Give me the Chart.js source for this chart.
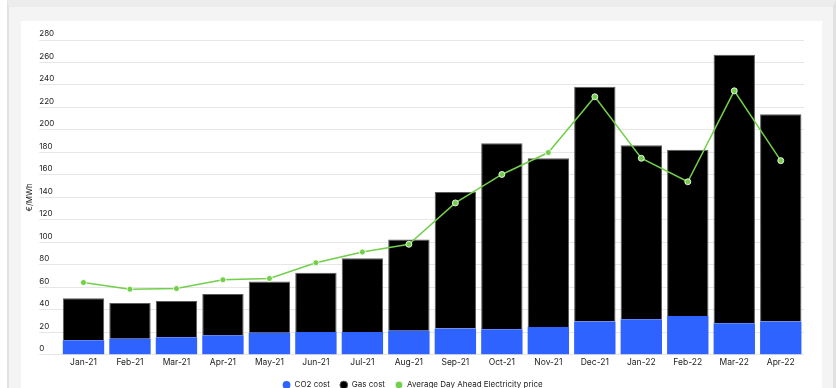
<!DOCTYPE html>
<html>
<head>
<meta charset="utf-8">
<script src="https://cdn.jsdelivr.net/npm/chart.js@4.4.1/dist/chart.umd.min.js"></script>
<style>
	html, body { margin: 0; padding: 0; background: #ffffff; overflow: hidden; width: 836px; height: 388px; }
	#frame { position: absolute; left: 7px; top: 0px; width: 824px; height: 400px; background: #f4f4f4;
		border-left: 2px solid #e2e2e2; border-top: 7px solid #ececec; border-right: 3px solid #e0e0e0; }
	#card { position: absolute; left: 21px; top: 21px; width: 801px; height: 380px; background: #ffffff; }
	#chart-canvas { position: absolute; left: 0px; top: 0px; }
</style>
</head>
<body>
<div id="frame"></div>
<div id="card">
	<canvas id="chart-canvas" width="788" height="378"></canvas>
</div>
<script>
const monthLabels = ["Jan-21", "Feb-21", "Mar-21", "Apr-21", "May-21", "Jun-21", "Jul-21", "Aug-21",
	"Sep-21", "Oct-21", "Nov-21", "Dec-21", "Jan-22", "Feb-22", "Mar-22", "Apr-22"];
const co2Cost = [12.9, 14.3, 15.6, 17.4, 19.7, 20.3, 20.3, 21.5, 23.3, 22.8, 24.8, 29.6, 31.7, 34.4, 28.1, 29.6];
const gasCost = [37.3, 31.7, 32.2, 36.7, 45.5, 52.7, 65.5, 81.0, 121.4, 165.4, 150.0, 208.8, 154.7, 147.9, 238.7, 184.3];
const dayAheadPrice = [64.3, 58.3, 58.9, 66.7, 67.9, 81.9, 91.4, 98.3, 135.1, 160.4, 179.9, 229.5, 174.8, 153.9, 234.8, 172.7];
const yMin = 0;
const yMax = 280;
const yStep = 20;

const fontFamily = "Inter, 'Noto Sans', sans-serif";
const textColor = "#222222";

Chart.defaults.font.family = fontFamily;
Chart.defaults.color = textColor;

let chartCanvas = document.getElementById("chart-canvas");
let chart = new Chart(chartCanvas.getContext("2d"),
{
	type: 'bar',
	data:
	{
		labels: monthLabels,
		datasets:
		[{
			label: "CO2 cost",
			data: co2Cost,
			backgroundColor: '#2e63ff',
			borderWidth: 0,
			order: 1,
			stack: "cost"
		},
		{
			label: "Gas cost",
			data: gasCost,
			backgroundColor: '#000000',
			borderColor: '#5c5c5c',
			borderWidth: 1,
			order: 1,
			stack: "cost"
		},
		{
			type: 'line',
			label: "Average Day Ahead Electricity price",
			data: dayAheadPrice,
			borderColor: '#72cf4a',
			backgroundColor: '#72cf4a',
			borderWidth: 1.5,
			pointRadius: 3,
			pointBorderWidth: 1,
			pointBorderColor: 'rgba(255, 255, 255, 0.85)',
			pointBackgroundColor: '#72cf4a',
			tension: 0,
			order: 0
		}]
	},
	options:
	{
		responsive: false,
		animation: false,
		devicePixelRatio: 1,
		layout:
		{
			padding: { top: 19, right: 4.75, left: 0, bottom: 0 }
		},
		datasets:
		{
			bar: { categoryPercentage: 0.89, barPercentage: 1 }
		},
		plugins:
		{
			tooltip: { enabled: false },
			legend:
			{
				position: 'bottom',
				labels:
				{
					usePointStyle: true,
					pointStyle: 'circle',
					boxWidth: 8,
					boxHeight: 5.5,
					padding: 10,
					color: textColor,
					font: { size: 8, family: fontFamily },
					sort: (a, b) => a.datasetIndex - b.datasetIndex
				}
			}
		},
		scales:
		{
			x:
			{
				stacked: true,
				grid: { display: false, drawTicks: false },
				border: { display: false },
				ticks:
				{
					padding: 3,
					color: textColor,
					font: { size: 8.5, family: fontFamily },
					maxRotation: 0,
					autoSkip: false
				}
			},
			y:
			{
				stacked: true,
				min: yMin,
				max: yMax,
				grid:
				{
					color: '#e6e6e6',
					lineWidth: 1,
					drawTicks: true,
					tickLength: 21,
					tickColor: '#e6e6e6'
				},
				border: { display: false },
				ticks:
				{
					stepSize: yStep,
					mirror: true,
					padding: -21,
					labelOffset: -6,
					color: textColor,
					font: { size: 8, family: fontFamily }
				},
				title:
				{
					display: true,
					text: "€/MWh",
					color: textColor,
					font: { size: 8, family: fontFamily },
					padding: { top: 4, bottom: 46.65 }
				}
			}
		}
	}
});
</script>
</body>
</html>
